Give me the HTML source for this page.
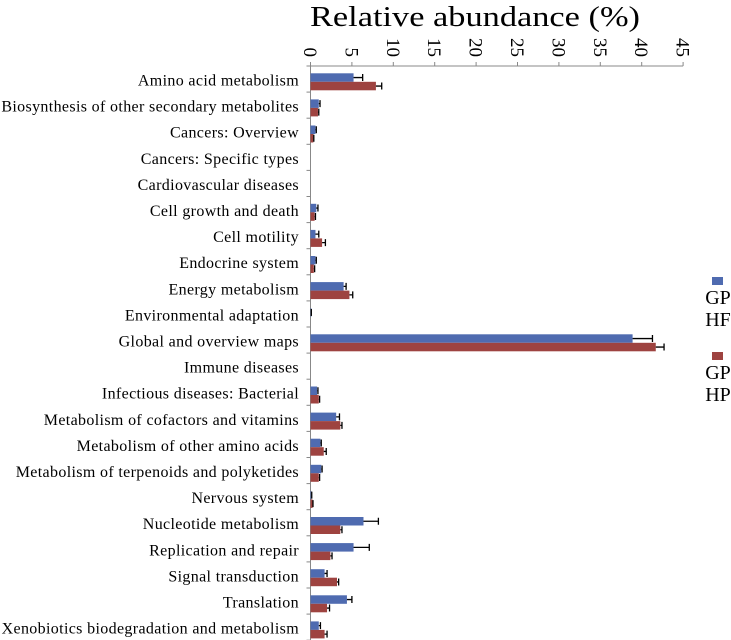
<!DOCTYPE html>
<html><head><meta charset="utf-8"><style>
body{margin:0;background:#fff}
svg{display:block;font-family:"Liberation Serif",serif}
</style></head><body>
<svg id="chart" width="731" height="640" viewBox="0 0 731 640" xmlns="http://www.w3.org/2000/svg">
<text x="310" y="26" font-size="29" textLength="330" lengthAdjust="spacingAndGlyphs" fill="#000">Relative abundance (%)</text>
<g id="axes"></g><g id="bars"></g><g id="labels"></g>
<g>
<rect x="712" y="277" width="11" height="8" fill="#4f6bb0"/>
<text x="718" y="304" font-size="20" text-anchor="middle">GP</text>
<text x="718" y="326" font-size="20" text-anchor="middle">HF</text>
<rect x="712" y="352" width="11" height="8" fill="#9e4340"/>
<text x="718" y="379" font-size="20" text-anchor="middle">GP</text>
<text x="718" y="401" font-size="20" text-anchor="middle">HP</text>
</g>
</svg>
<script>
const categories=["Amino acid metabolism","Biosynthesis of other secondary metabolites","Cancers: Overview","Cancers: Specific types","Cardiovascular diseases","Cell growth and death","Cell motility","Endocrine system","Energy metabolism","Environmental adaptation","Global and overview maps","Immune diseases","Infectious diseases: Bacterial","Metabolism of cofactors and vitamins","Metabolism of other amino acids","Metabolism of terpenoids and polyketides","Nervous system","Nucleotide metabolism","Replication and repair","Signal transduction","Translation","Xenobiotics biodegradation and metabolism"];
const hfValues=[5.2,1.0,0.6,0,0,0.7,0.6,0.6,4.0,0.1,38.9,0,0.8,3.1,1.2,1.3,0.1,6.4,5.2,1.7,4.4,1.0];
const hfErr=[1.1,0.15,0.1,0,0,0.2,0.4,0.1,0.3,0,2.4,0,0.1,0.4,0.1,0.1,0.05,1.8,1.9,0.3,0.6,0.2];
const hpValues=[7.9,0.9,0.35,0,0,0.5,1.4,0.4,4.7,0,41.7,0,1.0,3.6,1.6,1.0,0.25,3.6,2.4,3.2,2.0,1.7];
const hpErr=[0.7,0.1,0.05,0,0,0.1,0.4,0.1,0.4,0,1.0,0,0.1,0.2,0.3,0.1,0.05,0.2,0.2,0.2,0.3,0.3];
const tickValues=[0,5,10,15,20,25,30,35,40,45];
const NS="http://www.w3.org/2000/svg";
const x0=310.5,scale=8.28,plotTop=66,band=26.1;
const xs=v=>x0+v*scale;
const ys=i=>plotTop+i*band;
function mk(tag,attrs,parent){const e=document.createElementNS(NS,tag);for(const k in attrs)e.setAttribute(k,attrs[k]);parent.appendChild(e);return e;}
const axesG=document.getElementById('axes'),barsG=document.getElementById('bars'),labelsG=document.getElementById('labels');
let ln=mk('line',{x1:x0,y1:plotTop,x2:xs(45),y2:plotTop,stroke:'#888','stroke-width':1},axesG);


ln=mk('line',{x1:x0,y1:plotTop,x2:x0,y2:ys(categories.length),stroke:'#888','stroke-width':1},axesG);


tickValues.forEach(t=>{
 const tk=mk('line',{x1:xs(t),y1:plotTop-4,x2:xs(t),y2:plotTop,stroke:'#888'},axesG);
 
 
 const tx=mk('text',{x:0,y:0,'font-size':19,transform:`translate(${xs(t)-6.5},${plotTop-9}) rotate(90)`,'text-anchor':'end'},axesG);
 tx.textContent=t;
 
 
});
for(let i=0;i<=categories.length;i++){
 const tk=mk('line',{x1:x0-4,y1:ys(i),x2:x0,y2:ys(i),stroke:'#888'},axesG);
 
 
}
function bar(i,v,e,off,color,name){
 const y=ys(i)+off;
 const r=mk('rect',{x:x0,y:y,width:Math.max(0,xs(v)-x0),height:8.5,fill:color},barsG);
 
 
 if(v>0){
  const cy=y+4.25,xe=xs(v+e);
  const g=mk('path',{d:`M${xs(v)},${cy}H${xe}M${xe},${cy-3.5}V${cy+3.5}`,stroke:'#000','stroke-width':1.3,fill:'none'},barsG);
  
  
 }
}
categories.forEach((c,i)=>{
 bar(i,hfValues[i],hfErr[i],7.3,'#4f6bb0','bar-gp-hf');
 bar(i,hpValues[i],hpErr[i],15.8,'#9e4340','bar-gp-hp');
 const t=mk('text',{x:299,y:ys(i)+19.5,'font-size':16,'letter-spacing':0.35,'text-anchor':'end'},labelsG);
 t.textContent=c;
 
 
});
</script>
</body></html>
